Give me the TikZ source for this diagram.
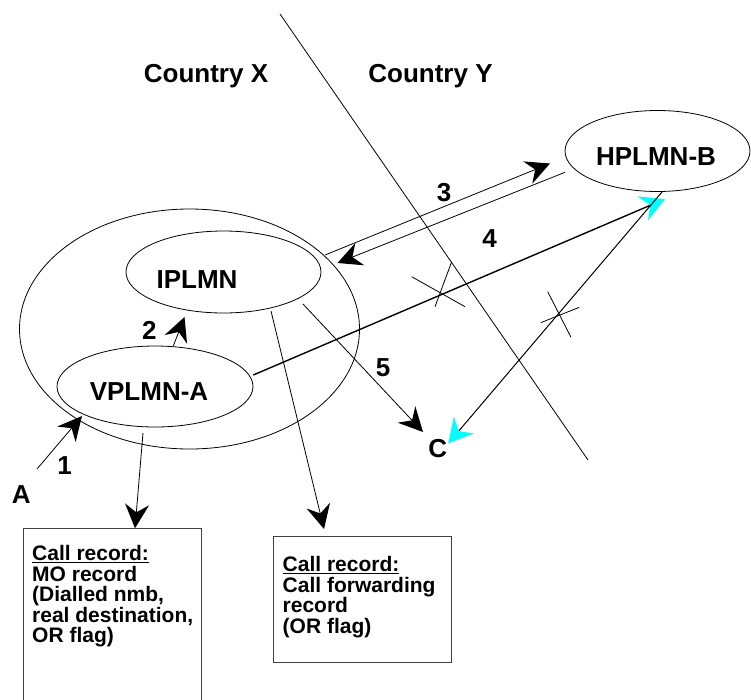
\documentclass[tikz,border=0pt]{standalone}
\usepackage{fontspec}
\setmainfont{Liberation Sans}
\usetikzlibrary{arrows.meta,shapes.geometric}
\definecolor{aqua}{RGB}{0,255,255}
\begin{document}
\begin{tikzpicture}[x=1pt,y=-1pt,
  ell/.style={ellipse,draw,line width=0.8pt,inner sep=0pt},
  lbl/.style={anchor=base,inner sep=0pt,font=\bfseries\fontsize{26}{26}\selectfont},
  rec/.style={anchor=base west,inner sep=0pt,font=\bfseries\fontsize{21}{21}\selectfont},
  recbox/.style={draw=black!75,line width=1pt,rectangle,inner sep=0pt,anchor=north west},
  thinln/.style={line width=0.8pt},
  arr/.style={line width=0.8pt,-{Stealth[length=24pt,width=24pt,inset=8pt,line width=1.2pt]}},
  carr/.style={-{Stealth[length=24pt,width=26pt,inset=8pt,color=aqua]}},
]
\useasboundingbox (0,0) rectangle (751,699);
\clip (0,0) rectangle (751,699);
\fill[white] (0,0) rectangle (751,699);

% border between countries
\coordinate (bt) at (280,14);
\coordinate (bb) at (588,460);
\draw[thinln] (bt) -- (bb);

% ellipses
\node[ell,minimum width=340pt,minimum height=240pt] (outer) at (189.5,329) {};
\node[ell,minimum width=195pt,minimum height=82pt] (ipl) at (223.5,272) {};
\node[ell,minimum width=196pt,minimum height=81pt] (vpl) at (155,386.5) {};
\node[ell,minimum width=185pt,minimum height=81pt] (hpl) at (657.5,151) {};

% labels
\node[lbl] (tX) at (206,82.3) {Country X};
\node[lbl] (tY) at (430.5,82.3) {Country Y};
\node[lbl] (tH) at (656,165.7) {HPLMN-B};
\node[lbl] (tI) at (197,288.5) {IPLMN};
\node[lbl] (tV) at (149,400.7) {VPLMN-A};
\node[lbl] (n1) at (64.5,474.3) {1};
\node[lbl] (n2) at (149.3,339.3) {2};
\node[lbl] (n3) at (444,201.7) {3};
\node[lbl] (n4) at (489.7,247.3) {4};
\node[lbl] (n5) at (383,376) {5};
\node[lbl] (tA) at (21.3,503.3) {A};
\node[lbl] (tC) at (437.7,457.3) {C};

% record boxes
\node[recbox,minimum width=178pt,minimum height=190pt] (box1) at (23,528) {};
\node[recbox,minimum width=178pt,minimum height=126pt] (box2) at (272.5,535.5) {};

\node[rec] (b1l1) at (32,560.5) {\underline{Call record:}};
\node[rec] (b1l2) at (32,581) {MO record};
\node[rec] (b1l3) at (32,601.5) {(Dialled nmb,};
\node[rec] (b1l4) at (32,622) {real destination,};
\node[rec] (b1l5) at (32,642.5) {OR flag)};

\node[rec] (b2l1) at (282.5,571.5) {\underline{Call record:}};
\node[rec] (b2l2) at (282.5,592) {Call forwarding};
\node[rec] (b2l3) at (282.5,612.5) {record};
\node[rec] (b2l4) at (282.5,633) {(OR flag)};

% connector end points
\coordinate (a1s) at (37,469);     \coordinate (a1e) at (82,416);
\coordinate (a2s) at (173.3,346);  \coordinate (a2e) at (184.5,317);
\coordinate (a3us) at (325,255);   \coordinate (a3ue) at (550,163.5);
\coordinate (a3ls) at (565,172.3); \coordinate (a3le) at (337.5,263);
\coordinate (l4s) at (253.3,375);  \coordinate (l4e) at (665,199);
\coordinate (a5s) at (303,304);    \coordinate (a5e) at (423,432);
\coordinate (cs) at (662,192);     \coordinate (ce) at (448.3,443.3);
\coordinate (r1s) at (143,433);    \coordinate (r1e) at (135,528.3);
\coordinate (r2s) at (271,311);    \coordinate (r2e) at (324,529);

% connectors
\draw[arr] (a1s) -- (a1e);
\draw[arr] (a2s) -- (a2e);
\draw[arr] (a3us) -- (a3ue);
\draw[arr] (a3ls) -- (a3le);
\draw[arr] (a5s) -- (a5e);
\draw[arr] (r1s) -- (r1e);
\draw[arr] (r2s) -- (r2e);
\draw[line width=1.4pt,carr] (l4s) -- (l4e);
\draw[line width=1pt,carr] (cs) -- (ce);

% crossing marks (interrupted links)
\draw[thinln] (411.7,276.7) -- (465,306.7);
\draw[thinln] (451.7,261.7) -- (435,306.7);
\draw[thinln] (540.7,322.7) -- (579.3,307.3);
\draw[thinln] (547.7,291.7) -- (571,337.3);
\end{tikzpicture}
\end{document}
